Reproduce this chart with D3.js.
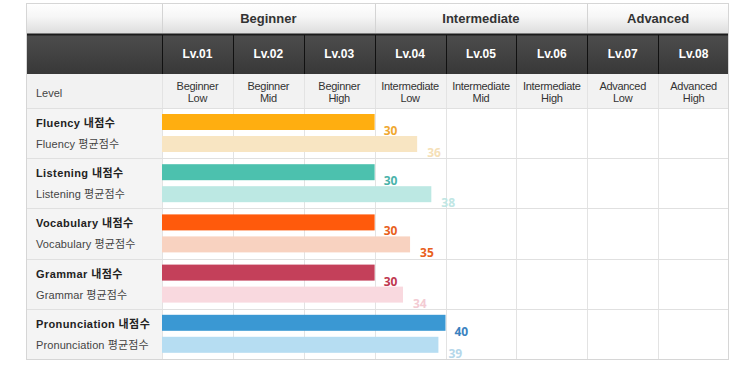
<!DOCTYPE html>
<html>
<head>
<meta charset="utf-8">
<script src="https://cdn.jsdelivr.net/npm/d3@7"></script>
<style>
  body { margin: 0; background: #fff; }
  svg { display: block; }
</style>
</head>
<body>
<svg id="chart" width="756" height="367"></svg>
<script>
// data
const groupNames = ['Beginner', 'Intermediate', 'Advanced']
const groupSpans = [3, 3, 2]
const levels = ['Lv.01', 'Lv.02', 'Lv.03', 'Lv.04', 'Lv.05', 'Lv.06', 'Lv.07', 'Lv.08']
const levelNames = [
  ['Beginner', 'Low'], ['Beginner', 'Mid'], ['Beginner', 'High'],
  ['Intermediate', 'Low'], ['Intermediate', 'Mid'], ['Intermediate', 'High'],
  ['Advanced', 'Low'], ['Advanced', 'High']
]
const subjects = ['Fluency', 'Listening', 'Vocabulary', 'Grammar', 'Pronunciation']
const myScores = [30, 30, 30, 30, 40]
const avgScores = [36, 38, 35, 34, 39]

// styles
const mainColors = ['#ffae10', '#4cc1ae', '#ff5a0c', '#c4405a', '#3a98d3']
const avgColors = ['#f8e5c2', '#bce8e3', '#f8d2c0', '#f9d9df', '#b6ddf2']
const mainLabelColors = ['#f0a830', '#4ab3aa', '#e8601c', '#c0384f', '#3a82bf']
const avgLabelColors = ['#f5dfb8', '#c0e6e4', '#e8601c', '#f3cbd3', '#b5d7ea']

const svg = d3.select('#chart')
const left = 26, labelW = 136, right = 729
const top0 = 3, h1 = 31, h2 = 40, h3 = 34, bottom = 359
const y1 = top0 + h1, y2 = y1 + h2, y3 = y2 + h3

const x = d3.scaleLinear().domain([0, levels.length * 10]).range([left + labelW, right])
const lvl = d3.scaleBand().domain(levels).range([left + labelW, right])
const y = d3.scaleBand().domain(subjects).range([y3, bottom])

const defs = svg.append('defs')
const g1 = defs.append('linearGradient').attr('id', 'hdr').attr('x1', 0).attr('y1', 0).attr('x2', 0).attr('y2', 1)
g1.append('stop').attr('offset', '0%').attr('stop-color', '#ffffff')
g1.append('stop').attr('offset', '45%').attr('stop-color', '#f6f6f6')
g1.append('stop').attr('offset', '100%').attr('stop-color', '#dcdcdc')
const g2 = defs.append('linearGradient').attr('id', 'dark').attr('x1', 0).attr('y1', 0).attr('x2', 0).attr('y2', 1)
g2.append('stop').attr('offset', '0%').attr('stop-color', '#4d4d4d')
g2.append('stop').attr('offset', '100%').attr('stop-color', '#383838')

// header backgrounds
svg.append('rect').attr('x', left).attr('y', top0).attr('width', right - left).attr('height', h1).attr('fill', 'url(#hdr)')
svg.append('rect').attr('x', left).attr('y', y1).attr('width', right - left).attr('height', h2).attr('fill', 'url(#dark)')
svg.append('rect').attr('x', left).attr('y', y2).attr('width', right - left).attr('height', h3).attr('fill', '#f2f2f2')
svg.append('line').attr('x1', left).attr('x2', right).attr('y1', y1 + 0.5).attr('y2', y1 + 0.5)
  .attr('stroke', '#1c1c1c').attr('stroke-width', 2)

// label column background
svg.append('rect').attr('x', left).attr('y', y3).attr('width', labelW).attr('height', bottom - y3).attr('fill', '#f4f4f4')

// group header
let start = 0
const groups = groupNames.map((n, i) => {
  const g = { name: n, x0: lvl(levels[start]), x1: lvl(levels[start + groupSpans[i] - 1]) + lvl.bandwidth() }
  start += groupSpans[i]
  return g
})
svg.selectAll('.grp').data(groups).join('text')
  .attr('x', d => (d.x0 + d.x1) / 2).attr('y', top0 + 20)
  .attr('text-anchor', 'middle')
  .style('font', 'bold 13px "Liberation Sans", Arial, sans-serif').style('fill', '#333')
  .text(d => d.name)
svg.selectAll('.grpsep').data([left + labelW].concat(groups.slice(0, -1).map(d => d.x1))).join('line')
  .attr('x1', d => Math.round(d) + 0.5).attr('x2', d => Math.round(d) + 0.5)
  .attr('y1', top0).attr('y2', y1 - 1)
  .attr('stroke', '#d4d4d4')

// level row (dark)
svg.selectAll('.lvsep').data([left + labelW].concat(levels.slice(1).map(d => lvl(d)))).join('line')
  .attr('x1', d => Math.round(d) + 0.5).attr('x2', d => Math.round(d) + 0.5)
  .attr('y1', y1 + 1).attr('y2', y2)
  .attr('stroke', '#111')
svg.selectAll('.lv').data(levels).join('text')
  .attr('x', d => lvl(d) + lvl.bandwidth() / 2).attr('y', y1 + 24)
  .attr('text-anchor', 'middle')
  .style('font', 'bold 12px "Liberation Sans", Arial, sans-serif').style('fill', '#fff')
  .text(d => d)

// grid
const gridXs = [left + labelW].concat(levels.slice(1).map(d => lvl(d)))
svg.selectAll('.vgrid').data(gridXs).join('line')
  .attr('x1', d => Math.round(d) + 0.5).attr('x2', d => Math.round(d) + 0.5)
  .attr('y1', y2).attr('y2', bottom)
  .attr('stroke', '#e3e3e3')
svg.selectAll('.hgrid').data(subjects).join('line')
  .attr('x1', left).attr('x2', right)
  .attr('y1', d => Math.round(y(d)) + 0.5).attr('y2', d => Math.round(y(d)) + 0.5)
  .attr('stroke', '#e0e0e0')

// level names
const ln = svg.selectAll('.ln').data(levels).join('text')
  .attr('text-anchor', 'middle')
  .style('font', '11px "Liberation Sans", Arial, sans-serif').style('fill', '#333')
  .style('letter-spacing', '-0.3px')
ln.append('tspan').attr('x', d => lvl(d) + lvl.bandwidth() / 2).attr('y', y2 + 16).text((d, i) => levelNames[i][0])
ln.append('tspan').attr('x', d => lvl(d) + lvl.bandwidth() / 2).attr('y', y2 + 28).text((d, i) => levelNames[i][1])
svg.append('text').attr('x', left + 10).attr('y', y2 + 23)
  .style('font', '11px "Liberation Sans", Arial, sans-serif').style('fill', '#444')
  .text('Level')

// row labels
const lblFont = '"Liberation Sans", "Noto Sans CJK KR", Arial, sans-serif'
svg.selectAll('.mylbl').data(subjects).join('text')
  .attr('x', left + 10).attr('y', d => y(d) + 19)
  .style('font', 'bold 11px ' + lblFont).style('fill', '#222')
  .style('letter-spacing', '0.4px')
  .text(d => d + ' 내점수')
svg.selectAll('.avglbl').data(subjects).join('text')
  .attr('x', left + 10).attr('y', d => y(d) + 40)
  .style('font', '11px ' + lblFont).style('fill', '#444')
  .style('letter-spacing', '0.1px')
  .text(d => d + ' 평균점수')

// bars
const barH = 16
svg.selectAll('.mybar').data(subjects).join('rect')
  .attr('x', x(0)).attr('y', d => y(d) + 6)
  .attr('width', (d, i) => x(myScores[i]) - x(0)).attr('height', barH)
  .attr('fill', (d, i) => mainColors[i])
svg.selectAll('.avgbar').data(subjects).join('rect')
  .attr('x', x(0)).attr('y', d => y(d) + 28)
  .attr('width', (d, i) => x(avgScores[i]) - x(0)).attr('height', barH)
  .attr('fill', (d, i) => avgColors[i])

// value labels
const valFont = 'bold 12px "Open Sans", "DejaVu Sans", sans-serif'
svg.selectAll('.myval').data(subjects).join('text')
  .attr('x', (d, i) => x(myScores[i]) + 9).attr('y', d => y(d) + 6 + barH + 5)
  .style('font', valFont).style('fill', (d, i) => mainLabelColors[i])
  .text((d, i) => myScores[i])
svg.selectAll('.avgval').data(subjects).join('text')
  .attr('x', (d, i) => x(avgScores[i]) + 10).attr('y', d => y(d) + 28 + barH + 5)
  .style('font', valFont).style('fill', (d, i) => avgLabelColors[i])
  .text((d, i) => avgScores[i])

// outer border
svg.append('rect').attr('x', left + 0.5).attr('y', top0 + 0.5)
  .attr('width', right - left - 1).attr('height', bottom - top0)
  .attr('fill', 'none').attr('stroke', '#d6d6d6')
</script>
</body>
</html>
